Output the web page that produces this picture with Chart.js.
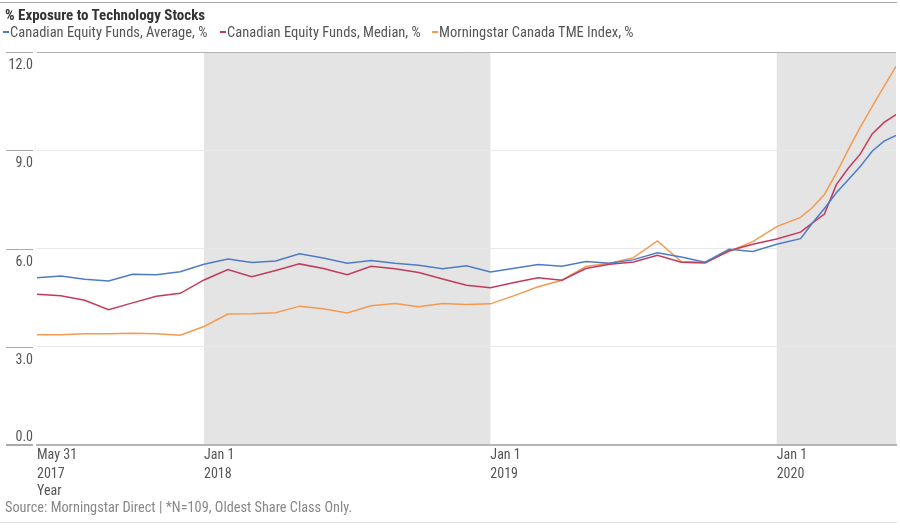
<!DOCTYPE html>
<html>
<head>
<meta charset="utf-8">
<script src="https://cdn.jsdelivr.net/npm/chart.js@4.4.1/dist/chart.umd.min.js"></script>
<style>
html,body{margin:0;padding:0;background:#fff;}
#wrap{position:relative;width:900px;height:529px;overflow:hidden;font-family:"Liberation Sans Narrow","Roboto Condensed",Roboto,sans-serif;}
#c{position:absolute;left:0;top:0;}
.topline{position:absolute;left:0;top:2px;width:897px;height:1px;background:#aaa;}
.botline{position:absolute;left:0;top:522px;width:897px;height:1px;background:#ddd;}
#title{position:absolute;left:5px;top:6px;font-weight:bold;font-size:15px;color:#333;white-space:nowrap;}
.item{position:absolute;top:24px;font-size:14.5px;color:#555;white-space:nowrap;}
.dash{display:inline-block;width:6px;height:2px;vertical-align:middle;margin-right:1px;position:relative;top:-1px;}
#source{position:absolute;left:5px;top:499px;font-size:14.3px;color:#888;white-space:nowrap;}
</style>
</head>
<body>
<div id="wrap">
  <canvas id="c" width="900" height="529"></canvas>
  <div class="topline"></div>
  <div id="title">% Exposure to Technology Stocks</div>
  <div class="item" style="left:3px"><span class="dash" style="background:#4d7cc5"></span>Canadian Equity Funds, Average, %</div>
  <div class="item" style="left:220px"><span class="dash" style="background:#c23b5c"></span>Canadian Equity Funds, Median, %</div>
  <div class="item" style="left:432px"><span class="dash" style="background:#f39a50"></span>Morningstar Canada TME Index, %</div>
  <div id="source">Source: Morningstar Direct | *N=109, Oldest Share Class Only.</div>
  <div class="botline"></div>
</div>
<script>
// Months since May 31, 2017 (month-end points, denser sampling in 2020)
const xMonths = [0,1,2,3,4,5,6,7,8,9,10,11,12,13,14,15,16,17,18,19,20,21,22,23,24,25,26,27,28,29,30,31,32,32.5,33,33.5,34,34.5,35,35.5,36];
const avgExposure = [5.11,5.16,5.06,5.01,5.21,5.20,5.29,5.52,5.68,5.57,5.62,5.84,5.71,5.55,5.63,5.55,5.49,5.38,5.47,5.28,5.40,5.51,5.46,5.60,5.55,5.66,5.87,5.74,5.58,5.98,5.91,6.13,6.30,6.78,7.22,7.70,8.10,8.50,8.97,9.28,9.45];
const medianExposure = [4.60,4.56,4.42,4.13,4.34,4.54,4.63,5.04,5.36,5.14,5.33,5.53,5.39,5.20,5.46,5.38,5.27,5.07,4.88,4.80,4.96,5.11,5.03,5.39,5.52,5.59,5.79,5.58,5.56,5.93,6.13,6.29,6.50,6.78,7.05,7.95,8.45,8.88,9.50,9.85,10.09];
const indexExposure = [3.37,3.37,3.40,3.40,3.41,3.40,3.35,3.62,4.00,4.01,4.04,4.24,4.16,4.03,4.25,4.32,4.22,4.32,4.29,4.31,4.56,4.83,5.03,5.45,5.55,5.72,6.23,5.60,5.58,5.91,6.21,6.67,6.95,7.25,7.65,8.30,9.02,9.70,10.33,10.95,11.56];
const seriesNames = ["Canadian Equity Funds, Average, %","Canadian Equity Funds, Median, %","Morningstar Canada TME Index, %"];
const xTickMonths = [0,7,19,31];
const xTickLabels = [["May 31","2017"],["Jan 1","2018"],["Jan 1","2019"],["Jan 1","2020"]];
const yTickValues = [12,9,6,3,0];
const yTickLabels = ["12.0","9.0","6.0","3.0","0.0"];
const shadedYears = [[7,19],[31,36]];

const FONT = '"Liberation Sans Narrow","Roboto Condensed",Roboto,sans-serif';

const bandsPlugin = {
  id:'bands',
  beforeDraw(chart){
    const {ctx, chartArea:a, scales:{x}} = chart;
    ctx.save();
    ctx.fillStyle = '#e4e4e4';
    shadedYears.forEach(([s,e])=>{
      const x1 = x.getPixelForValue(s), x2 = x.getPixelForValue(e);
      ctx.fillRect(x1, a.top, x2-x1, a.bottom-a.top);
    });
    ctx.restore();
  }
};
const yLabelPlugin = {
  id:'ylabels',
  afterDraw(chart){
    const {ctx, chartArea:a, scales:{y}} = chart;
    ctx.save();
    ctx.font = '14px ' + FONT;
    ctx.fillStyle = '#555';
    ctx.textAlign = 'right';
    ctx.textBaseline = 'middle';
    y.ticks.forEach((t,i)=>{
      const py = Math.round(y.getPixelForValue(t.value));
      ctx.strokeStyle = '#aaa';
      ctx.lineWidth = t.value === y.min ? 2 : 1;
      ctx.beginPath();
      ctx.moveTo(a.left-31, py + (t.value === y.min ? 0 : 0.5));
      ctx.lineTo(a.left-4, py + (t.value === y.min ? 0 : 0.5));
      ctx.stroke();
      const ly = t.value === y.min ? py - 8 : py + 13;
      ctx.fillText(yTickLabels[i], a.left-4, ly);
    });
    ctx.restore();
  }
};

function pts(vals){ return xMonths.map((m,i)=>({x:m, y:vals[i]})); }

new Chart(document.getElementById('c'), {
  type:'line',
  data:{datasets:[
    {label:seriesNames[0], data:pts(avgExposure), borderColor:'#4d7cc5'},
    {label:seriesNames[1], data:pts(medianExposure), borderColor:'#c23b5c'},
    {label:seriesNames[2], data:pts(indexExposure), borderColor:'#f39a50'}
  ]},
  options:{
    responsive:false, animation:false, devicePixelRatio:1,
    layout:{padding:{top:52,left:3,right:4,bottom:24}},
    plugins:{legend:{display:false}, tooltip:{enabled:false}},
    elements:{point:{radius:0}, line:{borderWidth:1.5, tension:0}},
    scales:{
      x:{
        type:'linear', min:0, max:36,
        afterBuildTicks:s=>{ s.ticks = xTickMonths.map(v=>({value:v})); },
        afterFit:s=>{ s.height = 60; },
        ticks:{autoSkip:false, maxRotation:0, align:'start', padding:1, color:'#555',
          font:{family:FONT, size:14, lineHeight:'19px'},
          callback:(v,i)=>xTickLabels[i]},
        grid:{display:false, drawTicks:false},
        border:{display:true, color:'#b5b5b5', width:2},
        title:{display:true, text:'Year', align:'start', color:'#555',
          font:{family:FONT, size:14, lineHeight:'16px'}, padding:{top:0,bottom:6}}
      },
      y:{
        min:0, max:12,
        afterBuildTicks:s=>{ s.ticks = yTickValues.map(v=>({value:v})); },
        afterFit:s=>{ s.width = 34; },
        ticks:{display:false},
        grid:{drawTicks:false, lineWidth:1,
          color:c=> c.tick.value===12 ? '#b0b0b0' : (c.tick.value===0 ? 'rgba(0,0,0,0)' : '#e8e8e8')},
        border:{display:false}
      }
    }
  },
  plugins:[bandsPlugin, yLabelPlugin]
});
</script>
</body>
</html>
